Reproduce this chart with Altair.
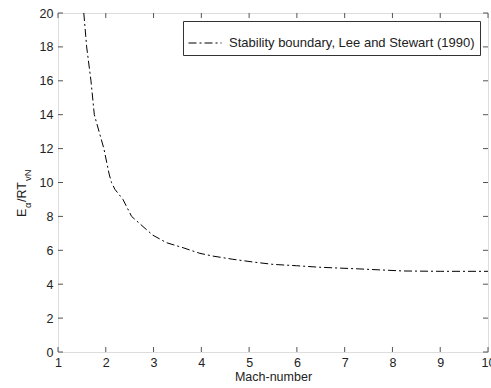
import altair as alt
import pandas as pd

# Data
mach = [1.54, 1.60, 1.69, 1.76, 1.86, 1.96, 2.07, 2.12, 2.19, 2.36, 2.54, 2.72,
        2.98, 3.27, 3.62, 3.97, 4.24, 4.66, 5.08, 5.50, 5.99, 6.48, 7.32, 8.22,
        9.00, 10.0]
energy = [20.0, 18.0, 16.0, 14.0, 13.0, 12.0, 10.5, 10.0, 9.6, 9.0, 8.0, 7.55,
          6.90, 6.45, 6.15, 5.82, 5.66, 5.47, 5.31, 5.17, 5.09, 5.00, 4.90, 4.78,
          4.76, 4.76]
series_name = "Stability boundary, Lee and Stewart (1990)"
x_ticks = [1, 2, 3, 4, 5, 6, 7, 8, 9, 10]
y_ticks = [0, 2, 4, 6, 8, 10, 12, 14, 16, 18, 20]

W, H = 430, 339
FONT = "Liberation Sans"
AX = "#555555"
TXT = "#222222"
DASH = [8, 3, 2, 3]

df = pd.DataFrame({"mach": mach, "E": energy, "series": [series_name] * len(mach)})
xs = alt.Scale(domain=[1, 10], nice=False, zero=False)
ys = alt.Scale(domain=[0, 20], nice=False, zero=False)

x_axis = alt.Axis(title="Mach-number", values=x_ticks, domain=False, ticks=False,
                  tickSize=0, grid=False, labelFlush=False, labelOverlap=False,
                  labelPadding=4,
                  labelFontSize=12.5, labelFont=FONT, labelColor=TXT,
                  titleFontSize=12.5, titleFont=FONT, titleColor=TXT,
                  titleFontWeight="normal", titlePadding=2)
y_axis = alt.Axis(title=None, values=y_ticks, domain=False, ticks=False,
                  tickSize=0, grid=False, labelFlush=False, labelOverlap=False,
                  labelPadding=5,
                  labelFontSize=12.5, labelFont=FONT, labelColor=TXT)

line = alt.Chart(df).mark_line(strokeWidth=1, strokeDash=DASH, clip=True).encode(
    x=alt.X("mach:Q", scale=xs, axis=x_axis),
    y=alt.Y("E:Q", scale=ys, axis=y_axis),
    color=alt.Color("series:N", scale=alt.Scale(range=["black"]),
                    legend=alt.Legend(orient="none", legendX=125, legendY=8, title=None,
                                      strokeColor="#333333", fillColor="white", padding=5,
                                      symbolType="stroke", symbolSize=1089,
                                      symbolStrokeWidth=1, symbolDash=DASH,
                                      labelFontSize=13, labelFont=FONT, labelColor=TXT,
                                      labelOffset=7, labelLimit=0)),
)

xt = pd.DataFrame({"t": x_ticks})
yt = pd.DataFrame({"t": y_ticks})
tick_bottom = alt.Chart(xt).mark_rule(color=AX, strokeWidth=1).encode(
    x=alt.X("t:Q", scale=xs, axis=x_axis), y=alt.value(H), y2=alt.value(H - 5))
tick_top = alt.Chart(xt).mark_rule(color=AX, strokeWidth=1).encode(
    x=alt.X("t:Q", scale=xs, axis=x_axis), y=alt.value(0), y2=alt.value(5))
tick_left = alt.Chart(yt).mark_rule(color=AX, strokeWidth=1).encode(
    y=alt.Y("t:Q", scale=ys, axis=y_axis), x=alt.value(0), x2=alt.value(5))
tick_right = alt.Chart(yt).mark_rule(color=AX, strokeWidth=1).encode(
    y=alt.Y("t:Q", scale=ys, axis=y_axis), x=alt.value(W), x2=alt.value(W - 5))

# y-axis title with subscripts: E_alpha / RT_vN
def piece(text, size, xpos, ypos):
    return alt.Chart(pd.DataFrame({"s": [text]})).mark_text(
        angle=270, align="left", baseline="alphabetic", font=FONT,
        fontSize=size, color=TXT).encode(
        text="s:N", x=alt.value(xpos), y=alt.value(ypos))

lab_E = piece("E", 12.5, -32, 204)
lab_a = piece("α", 9.5, -27, 195)
lab_RT = piece("/RT", 12.5, -32, 189)
lab_vN = piece("vN", 9.5, -27, 168)

chart = alt.layer(
    line, tick_bottom, tick_top, tick_left, tick_right,
    lab_E, lab_a, lab_RT, lab_vN
).properties(
    width=W, height=H,
    autosize=alt.AutoSizeParams(type="none"),
    padding={"left": 58, "top": 13, "right": 3, "bottom": 36},
).configure_view(stroke=AX, strokeWidth=1).configure(background="white")

chart.save("out.html", embed_options={"renderer": "svg", "actions": False})
